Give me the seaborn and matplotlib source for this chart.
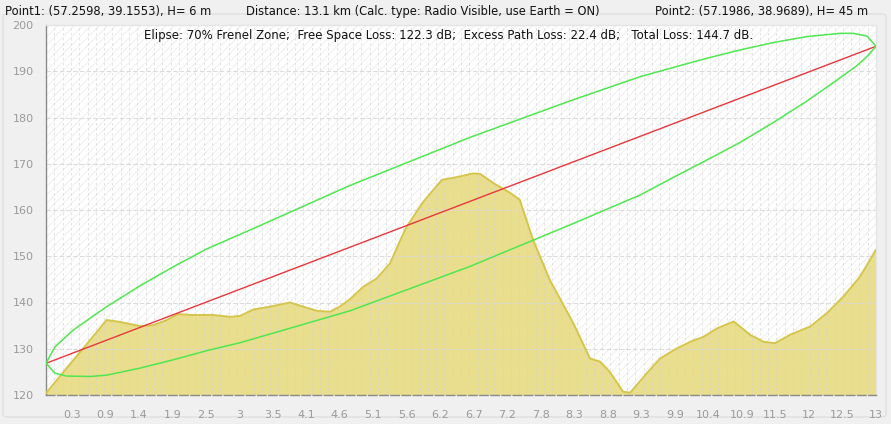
import numpy as np
import pandas as pd
import matplotlib
matplotlib.use("Agg")
import matplotlib.pyplot as plt
import seaborn as sns
from matplotlib.patches import Rectangle, FancyBboxPatch

# ---------------- data ----------------
terrain_km = [0.00, 0.95, 1.16, 1.47, 1.68, 1.89, 2.07, 2.26, 2.62, 2.88, 3.04, 3.25, 3.51,
              3.82, 4.03, 4.24, 4.45, 4.60, 4.76, 4.97, 5.18, 5.39, 5.54, 5.65, 5.91, 6.20,
              6.43, 6.69, 6.80, 7.01, 7.27, 7.42, 7.63, 7.89, 8.26, 8.52, 8.68, 8.83, 9.04,
              9.15, 9.41, 9.62, 9.83, 10.09, 10.30, 10.51, 10.77, 11.03, 11.24, 11.42, 11.65,
              11.97, 12.23, 12.49, 12.75, 13.00]
terrain_h = [120.4, 136.2, 135.8, 134.9, 135.1, 136.2, 137.5, 137.3, 137.3, 136.9, 137.1, 138.5,
             139.1, 140.0, 139.1, 138.2, 138.0, 139.1, 140.7, 143.4, 145.2, 148.5, 153.2, 156.4,
             161.8, 166.5, 167.1, 167.9, 167.8, 165.8, 163.7, 162.2, 153.5, 144.9, 135.5, 127.9,
             127.2, 125.0, 120.7, 120.5, 124.7, 127.9, 129.7, 131.5, 132.6, 134.4, 135.9, 133.0,
             131.5, 131.2, 133.0, 134.8, 137.7, 141.3, 145.6, 151.4]

los_km = [0.0, 13.0]
los_h = [126.85, 195.4]

upper_km = [0.0, 0.14, 0.43, 0.95, 1.47, 1.99, 2.52, 3.20, 4.76, 6.64, 8.21, 9.30, 9.82,
            10.35, 10.87, 11.39, 11.92, 12.44, 12.64, 12.86, 13.0]
upper_h = [126.9, 130.4, 134.1, 139.1, 143.6, 147.7, 151.6, 155.7, 165.3, 175.7, 183.6, 188.8,
           190.8, 192.8, 194.6, 196.2, 197.5, 198.2, 198.2, 197.6, 195.4]

lower_km = [0.0, 0.14, 0.32, 0.69, 0.95, 1.47, 1.99, 2.52, 3.04, 4.76, 6.64, 8.21, 9.30, 9.82,
            10.35, 10.87, 11.39, 11.89, 12.40, 12.70, 12.86, 13.0]
lower_h = [126.9, 124.7, 124.1, 124.0, 124.3, 125.8, 127.6, 129.6, 131.3, 138.2, 147.8, 156.8,
           163.2, 167.0, 170.8, 174.6, 178.9, 183.3, 188.2, 191.2, 193.2, 195.4]

x_tick_labels = ["0.3", "0.9", "1.4", "1.9", "2.5", "3", "3.5", "4.1", "4.6", "5.1", "5.6", "6.2",
                 "6.7", "7.2", "7.8", "8.3", "8.8", "9.3", "9.9", "10.4", "10.9", "11.5", "12",
                 "12.5", "13"]
y_ticks = [120, 130, 140, 150, 160, 170, 180, 190, 200]

header_left = "Point1: (57.2598, 39.1553), H= 6 m"
header_mid = "Distance: 13.1 km (Calc. type: Radio Visible, use Earth = ON)"
header_right = "Point2: (57.1986, 38.9689), H= 45 m"
info_line = ("Elipse: 70% Frenel Zone;  Free Space Loss: 122.3 dB;  "
             "Excess Path Loss: 22.4 dB;   Total Loss: 144.7 dB.")

# ---------------- style ----------------
sns.set_theme(style="white")
plt.rcParams['font.family'] = ['DejaVu Sans']
plt.rcParams['hatch.linewidth'] = 0.6

W, H = 891, 424
fig = plt.figure(figsize=(W / 100, H / 100), dpi=100)
fig.patch.set_facecolor("#f0f0f0")

# rounded panel (behind everything)
panel = FancyBboxPatch((3 / W, 1 - 417 / H), 883 / W, 403 / H,
                       boxstyle="round,pad=0,rounding_size=0.006",
                       transform=fig.transFigure, facecolor="#f0f0f0",
                       edgecolor="#e0e0e0", lw=1.0, zorder=-5)
fig.patches.append(panel)

ax = fig.add_axes([46 / W, 1 - 395 / H, 830 / W, 370 / H])
ax.set_zorder(2)
ax.set_facecolor("white")
ax.add_patch(Rectangle((0, 0), 1, 1, transform=ax.transAxes, facecolor="none",
                       edgecolor="#ececec", hatch="////", lw=0, zorder=0))

# grid
for xv in np.linspace(0, 13, 101)[1:-1]:
    ax.axvline(xv, color="#d2d2d2", lw=0.6, ls=(0, (3, 3)), zorder=2, alpha=0.7)
for yv in y_ticks[1:-1]:
    ax.axhline(yv, color="#d8d8d8", lw=0.8, ls=(0, (4, 2)), zorder=2, alpha=0.9)

# terrain
tdf = pd.DataFrame({"km": terrain_km, "h": terrain_h})
ax.fill_between(tdf["km"], tdf["h"], 120, color="#e9de8e", lw=0, zorder=1)
sns.lineplot(data=tdf, x="km", y="h", ax=ax, color="#d6c54c", lw=1.4, zorder=3,
             estimator=None, sort=False)

# line of sight and Fresnel ellipse
sns.lineplot(x=los_km, y=los_h, ax=ax, color="#e8373c", lw=1.0, zorder=4,
             estimator=None, sort=False)
sns.lineplot(x=upper_km, y=upper_h, ax=ax, color="#50e650", lw=1.1, zorder=4,
             estimator=None, sort=False)
sns.lineplot(x=lower_km, y=lower_h, ax=ax, color="#50e650", lw=1.1, zorder=4,
             estimator=None, sort=False)

ax.set_xlim(0, 13)
ax.set_ylim(120, 200)
ax.set_xlabel("")
ax.set_ylabel("")

xt = np.linspace(0.4025, 13.0, len(x_tick_labels))
ax.set_xticks(xt)
ax.set_xticklabels(x_tick_labels)
ax.set_yticks(y_ticks)
ax.set_yticklabels([str(v) for v in y_ticks])
ax.tick_params(axis="both", colors="#8a8a8a", labelcolor="#9a9a9a", labelsize=8,
               length=6, width=0.9, direction="out")
ax.tick_params(axis="x", pad=5)
ax.tick_params(axis="y", pad=3)

for side in ["left", "bottom"]:
    ax.spines[side].set_color("#8a8a8a")
    ax.spines[side].set_linewidth(1.0)
ax.spines["bottom"].set_linestyle((0, (6, 2)))
for side in ["top", "right"]:
    ax.spines[side].set_color("#e4e4e4")
    ax.spines[side].set_linewidth(1.0)

# header texts
fs = 8.3
fig.text(5 / W, 1 - 11 / H, header_left, fontsize=fs, color="#111111", va="center", ha="left")
fig.text(246 / W, 1 - 11 / H, header_mid, fontsize=fs, color="#111111", va="center", ha="left")
fig.text(868 / W, 1 - 11 / H, header_right, fontsize=fs, color="#111111", va="center", ha="right")
fig.text(449 / W, 1 - 35 / H, info_line, fontsize=8.45, color="#111111", va="center", ha="center",
         zorder=10)

fig.savefig("out.png", dpi=100, facecolor=fig.get_facecolor())
